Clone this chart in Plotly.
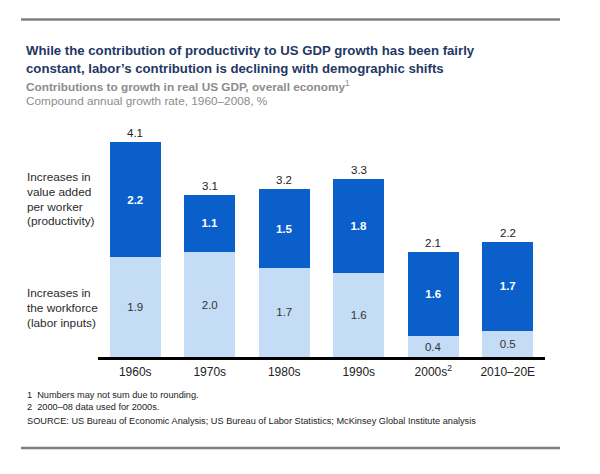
import plotly.graph_objects as go

categories = ["1960s", "1970s", "1980s", "1990s", "2000s", "2010–20E"]
tick_labels = ["1960s", "1970s", "1980s", "1990s", "2000s<sup>2</sup>", "2010–20E"]
labor = [1.9, 2.0, 1.7, 1.6, 0.4, 0.5]
productivity = [2.2, 1.1, 1.5, 1.8, 1.6, 1.7]
totals = [4.1, 3.1, 3.2, 3.3, 2.1, 2.2]

W, H = 600, 474
ML, MR, MT, MB = 98, 55, 121, 117
PW, PH = W - ML - MR, H - MT - MB
FONT = "Liberation Sans, Arial, sans-serif"
DARK = "#0A5FCB"
LIGHT = "#C5DCF6"


def px(x):
    return (x - ML) / PW


def py(y):
    return (H - MB - y) / PH


fig = go.Figure()
fig.add_trace(go.Bar(
    x=categories, y=labor, name="labor",
    marker=dict(color=LIGHT, line=dict(width=0)),
    text=[f"{v:.1f}" for v in labor], textposition="inside",
    insidetextanchor="middle", textangle=0,
    textfont=dict(family=FONT, size=11.5, color="#333333"),
    hoverinfo="skip",
))
fig.add_trace(go.Bar(
    x=categories, y=productivity, name="productivity",
    marker=dict(color=DARK, line=dict(width=0)),
    text=[f"<b>{v:.1f}</b>" for v in productivity], textposition="inside",
    insidetextanchor="middle", textangle=0,
    textfont=dict(family=FONT, size=11.5, color="white"),
    hoverinfo="skip",
))

annotations = []
for c, l, p, t in zip(categories, labor, productivity, totals):
    annotations.append(dict(
        x=c, y=l + p, xref="x", yref="y", text=f"{t:.1f}",
        showarrow=False, yanchor="bottom", yshift=1,
        font=dict(family=FONT, size=11.5, color="#222222"),
    ))

def txt(x, y, s, size, color, anchor="left"):
    annotations.append(dict(
        x=px(x), y=py(y), xref="paper", yref="paper", text=s,
        showarrow=False, xanchor=anchor, yanchor="middle",
        font=dict(family=FONT, size=size, color=color),
    ))

TITLE_C = "#1F3864"
txt(24, 51, "<b>While the contribution of productivity to US GDP growth has been fairly</b>", 13.2, TITLE_C)
txt(24, 69, "<b>constant, labor’s contribution is declining with demographic shifts</b>", 13.2, TITLE_C)
txt(24, 87, "<b>Contributions to growth in real US GDP, overall economy</b><sup>1</sup>", 11.8, "#8C8C8C")
txt(24, 101, "Compound annual growth rate, 1960–2008, %", 11.8, "#8C8C8C")

for i, s in enumerate(["Increases in", "value added", "per worker", "(productivity)"]):
    txt(25, 177 + 14.8 * i, s, 11.8, "#2A2A2A")
for i, s in enumerate(["Increases in", "the workforce", "(labor inputs)"]):
    txt(25, 293 + 14.8 * i, s, 11.8, "#2A2A2A")

txt(25, 395, "1  Numbers may not sum due to rounding.", 9.2, "#222222")
txt(25, 407, "2  2000–08 data used for 2000s.", 9.2, "#222222")
txt(25, 421, "SOURCE: US Bureau of Economic Analysis; US Bureau of Labor Statistics; McKinsey Global Institute analysis", 9.2, "#222222")

shapes = [
    dict(type="line", xref="paper", yref="paper", x0=px(21), x1=px(560), y0=py(19.5), y1=py(19.5),
         line=dict(color="#7F7F7F", width=2.5)),
    dict(type="line", xref="paper", yref="paper", x0=px(21), x1=px(560), y0=py(448), y1=py(448),
         line=dict(color="#7F7F7F", width=2.5)),
]

fig.update_layout(
    width=W, height=H,
    margin=dict(l=ML, r=MR, t=MT, b=MB, pad=0),
    barmode="stack", bargap=0.315,
    showlegend=False,
    paper_bgcolor="white", plot_bgcolor="white",
    font=dict(family=FONT),
    annotations=annotations, shapes=shapes,
    xaxis=dict(
        tickmode="array", tickvals=categories, ticktext=tick_labels,
        showline=True, linecolor="black", linewidth=2.5,
        showgrid=False, ticks="", zeroline=False,
        tickfont=dict(family=FONT, size=12, color="#222222"),
        ticklabelstandoff=2,
        fixedrange=True,
    ),
    yaxis=dict(
        range=[0, PH / 52.4], visible=False, showgrid=False, zeroline=False,
        fixedrange=True,
    ),
)

fig.write_html("out.html", config={"displayModeBar": False})
